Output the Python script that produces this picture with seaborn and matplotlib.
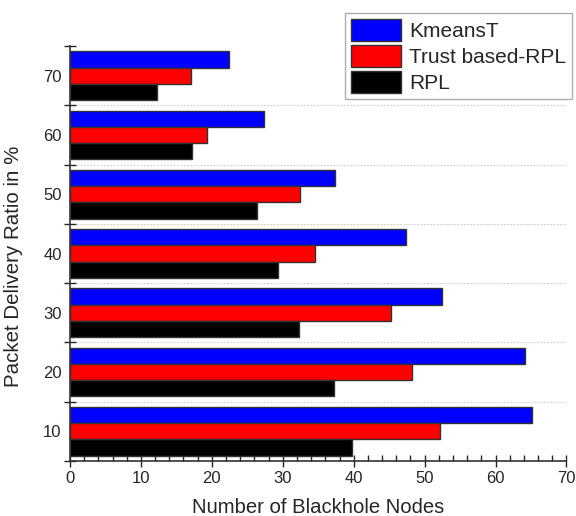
import pandas as pd
import seaborn as sns
import matplotlib.pyplot as plt
from matplotlib.ticker import MultipleLocator, FixedLocator

# data
pdr_levels = ["70", "60", "50", "40", "30", "20", "10"]
kmeans_t = [22.4, 27.3, 37.4, 47.4, 52.4, 64.2, 65.2]
trust_rpl = [17.1, 19.3, 32.4, 34.5, 45.3, 48.2, 52.1]
rpl = [12.2, 17.2, 26.3, 29.3, 32.3, 37.2, 39.7]
series_names = ["KmeansT", "Trust based-RPL", "RPL"]
series_colors = ["#0000ff", "#ff0000", "#000000"]


def main():
    rows = []
    for name, vals in zip(series_names, [kmeans_t, trust_rpl, rpl]):
        for lvl, v in zip(pdr_levels, vals):
            rows.append({"level": lvl, "value": v, "series": name})
    df = pd.DataFrame(rows)

    sns.set_style("white")
    plt.rcParams["font.family"] = ["Liberation Sans", "DejaVu Sans"]

    fig = plt.figure(figsize=(5.76, 5.16), dpi=100)
    ax = fig.add_axes([0.1215, 1 - 461 / 516, 0.862, (461 - 46) / 516])

    sns.barplot(data=df, x="value", y="level", hue="series", order=pdr_levels,
                hue_order=series_names, palette=series_colors, orient="h",
                width=0.82, edgecolor="#333333", linewidth=1.0, saturation=1,
                ax=ax)

    ax.set_xlim(0, 70)
    ax.set_ylim(6.5, -0.5)

    # group separators and dotted grid
    bounds = [i + 0.5 for i in range(-1, 7)]
    ax.yaxis.set_minor_locator(FixedLocator(bounds))
    for b in bounds[1:-1]:
        ax.axhline(b, color="#cccccc", lw=0.8, ls=(0, (1.5, 1.5)), zorder=0)
    ax.tick_params(axis="y", which="major", length=0, labelsize=12, pad=6)
    ax.tick_params(axis="y", which="minor", length=8, width=1, direction="inout",
                   left=True)

    ax.xaxis.set_major_locator(MultipleLocator(10))
    ax.xaxis.set_minor_locator(MultipleLocator(2))
    ax.tick_params(axis="x", which="major", length=8, width=1, direction="inout",
                   labelsize=12, bottom=True)
    ax.tick_params(axis="x", which="minor", length=4, width=1, direction="in",
                   bottom=True)

    for s in ["top", "right"]:
        ax.spines[s].set_visible(False)
    for s in ["left", "bottom"]:
        ax.spines[s].set_color("#333333")
        ax.spines[s].set_linewidth(1.2)

    ax.set_xlabel("Number of Blackhole Nodes", fontsize=14.6, labelpad=8)
    ax.set_ylabel("Packet Delivery Ratio in %", fontsize=14.8)
    ax.yaxis.set_label_coords(-0.095, 0.47)

    ax.legend(loc="upper right", bbox_to_anchor=(572 / 576, 1 - 13 / 516),
              bbox_transform=fig.transFigure, fontsize=15, frameon=True,
              fancybox=False, edgecolor="#999999", handlelength=2.4,
              handleheight=1.25, labelspacing=0.18, handletextpad=0.35,
              borderpad=0.3, borderaxespad=0, title=None)

    fig.savefig("out.png", dpi=100)


if __name__ == "__main__":
    main()
